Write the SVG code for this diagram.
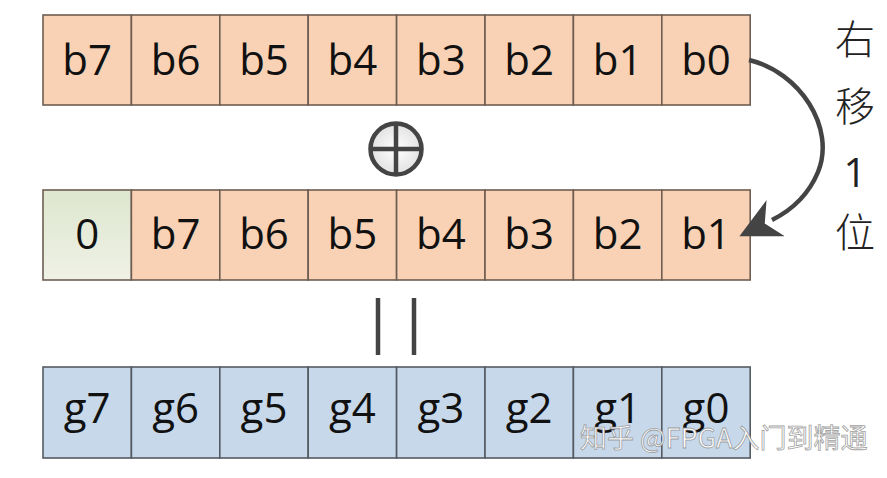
<svg xmlns="http://www.w3.org/2000/svg" width="887" height="478" viewBox="0 0 887 478">
<style>
.o{fill:#F9D1B4;stroke:#6E5E52;stroke-width:1.6}
.z{fill:url(#gz);stroke:#6E5E52;stroke-width:1.6}
.b{fill:#C6D8EA;stroke:#555B62;stroke-width:1.6}
.t{font-family:"Open Sans","Noto Sans",sans-serif;font-size:42px;fill:#111;text-anchor:middle}
.c{font-family:"Noto Sans CJK SC",sans-serif;font-size:40px;fill:#222;text-anchor:middle;font-weight:300}
.k{stroke:#444;stroke-width:4.5;fill:none;stroke-linecap:butt}
.w{font-family:"Noto Sans CJK SC",sans-serif;font-size:27px;fill:#fff;stroke:#888;stroke-width:0.8;stroke-opacity:0.8}
</style>
<defs>
<linearGradient id="gz" x1="0" y1="0" x2="0" y2="1"><stop offset="0" stop-color="#DDE6CE"/><stop offset="1" stop-color="#EFF1E6"/></linearGradient>
<radialGradient id="gx"><stop offset="0" stop-color="#FFFFFF"/><stop offset="1" stop-color="#E2E2E2"/></radialGradient>
<marker id="ah" viewBox="0 0 20 20" refX="2" refY="10" markerWidth="9" markerHeight="9" markerUnits="strokeWidth" orient="auto">
<path d="M0,10 L20,0 L14,10 L20,20 Z" fill="#444" transform="rotate(180 10 10)"/>
</marker>
</defs>
<g id="row-b">
<g id="b7"><rect class="o" x="43" y="15" width="88.4" height="90"/><text class="t" x="87.2" y="75">b7</text></g>
<g id="b6"><rect class="o" x="131.4" y="15" width="88.4" height="90"/><text class="t" x="175.6" y="75">b6</text></g>
<g id="b5"><rect class="o" x="219.8" y="15" width="88.4" height="90"/><text class="t" x="264" y="75">b5</text></g>
<g id="b4"><rect class="o" x="308.2" y="15" width="88.4" height="90"/><text class="t" x="352.4" y="75">b4</text></g>
<g id="b3"><rect class="o" x="396.6" y="15" width="88.4" height="90"/><text class="t" x="440.8" y="75">b3</text></g>
<g id="b2"><rect class="o" x="485" y="15" width="88.4" height="90"/><text class="t" x="529.2" y="75">b2</text></g>
<g id="b1"><rect class="o" x="573.4" y="15" width="88.4" height="90"/><text class="t" x="617.6" y="75">b1</text></g>
<g id="b0"><rect class="o" x="661.8" y="15" width="88.4" height="90"/><text class="t" x="706" y="75">b0</text></g>
</g>
<g id="row-shift">
<g id="s0"><rect class="z" x="43" y="190" width="88.4" height="90"/><text class="t" x="87.2" y="249">0</text></g>
<g id="s7"><rect class="o" x="131.4" y="190" width="88.4" height="90"/><text class="t" x="175.6" y="249">b7</text></g>
<g id="s6"><rect class="o" x="219.8" y="190" width="88.4" height="90"/><text class="t" x="264" y="249">b6</text></g>
<g id="s5"><rect class="o" x="308.2" y="190" width="88.4" height="90"/><text class="t" x="352.4" y="249">b5</text></g>
<g id="s4"><rect class="o" x="396.6" y="190" width="88.4" height="90"/><text class="t" x="440.8" y="249">b4</text></g>
<g id="s3"><rect class="o" x="485" y="190" width="88.4" height="90"/><text class="t" x="529.2" y="249">b3</text></g>
<g id="s2"><rect class="o" x="573.4" y="190" width="88.4" height="90"/><text class="t" x="617.6" y="249">b2</text></g>
<g id="s1"><rect class="o" x="661.8" y="190" width="88.4" height="90"/><text class="t" x="706" y="249">b1</text></g>
</g>
<g id="row-g">
<g id="g7"><rect class="b" x="43" y="367" width="88.4" height="91"/><text class="t" x="87.2" y="423">g7</text></g>
<g id="g6"><rect class="b" x="131.4" y="367" width="88.4" height="91"/><text class="t" x="175.6" y="423">g6</text></g>
<g id="g5"><rect class="b" x="219.8" y="367" width="88.4" height="91"/><text class="t" x="264" y="423">g5</text></g>
<g id="g4"><rect class="b" x="308.2" y="367" width="88.4" height="91"/><text class="t" x="352.4" y="423">g4</text></g>
<g id="g3"><rect class="b" x="396.6" y="367" width="88.4" height="91"/><text class="t" x="440.8" y="423">g3</text></g>
<g id="g2"><rect class="b" x="485" y="367" width="88.4" height="91"/><text class="t" x="529.2" y="423">g2</text></g>
<g id="g1"><rect class="b" x="573.4" y="367" width="88.4" height="91"/><text class="t" x="617.6" y="423">g1</text></g>
<g id="g0"><rect class="b" x="661.8" y="367" width="88.4" height="91"/><text class="t" x="706" y="423">g0</text></g>
</g>
<g id="xor">
<circle cx="396" cy="149" r="25.5" fill="url(#gx)" stroke="#444" stroke-width="4.5"/>
<line class="k" x1="396" y1="123.5" x2="396" y2="174.5"/>
<line class="k" x1="370.5" y1="149" x2="421.5" y2="149"/>
</g>
<g id="equals">
<line class="k" x1="378" y1="298" x2="378" y2="355"/>
<line class="k" x1="414" y1="298" x2="414" y2="355"/>
</g>
<g id="connectors">
<path class="k" d="M749,60 C800,72 836,128 818,172 C808,196 792,210 772,220" marker-end="url(#ah)"/>
</g>
<g id="label">
<text class="c" x="855" y="54">右</text>
<text class="c" x="855" y="121">移</text>
<text class="c" x="855" y="187" style="font-family:'Open Sans',sans-serif;font-weight:400">1</text>
<text class="c" x="855" y="247">位</text>
</g>
<text class="w" x="580" y="448">知乎 @FPGA入门到精通</text>
</svg>
